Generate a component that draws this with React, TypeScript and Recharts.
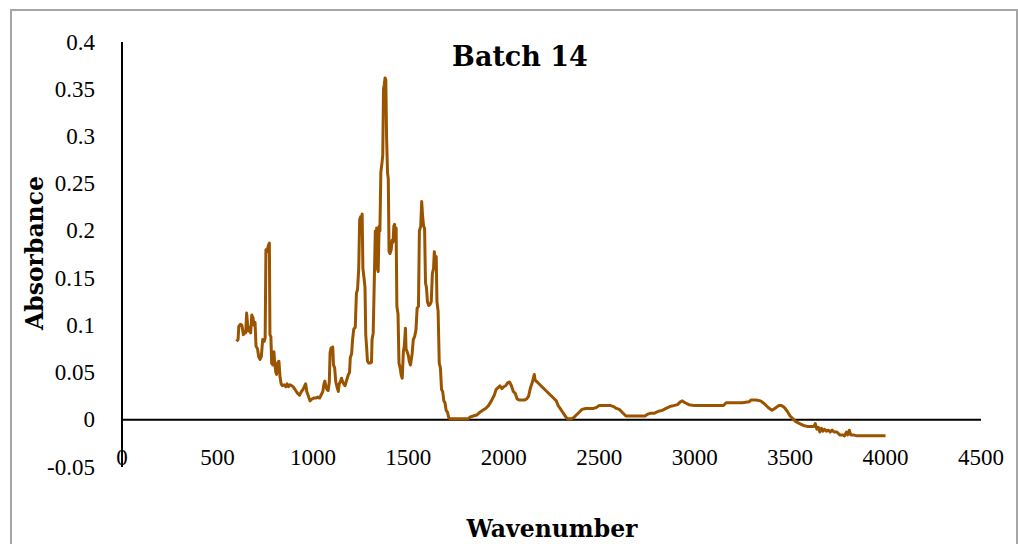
import React from 'react'
import { LineChart, Line, XAxis, YAxis, ReferenceLine } from 'recharts'

// FTIR spectrum, batch 14
const wavenumber = [
  600, 608, 612, 620, 628, 636, 642, 648, 653, 658, 663, 668, 674, 680, 686, 692, 697, 702, 710, 716,
  723, 730, 737, 745, 750, 754, 760, 766, 772, 775, 780, 784, 790, 796, 800, 806, 810, 815, 822, 828,
  834, 840, 850, 858, 865, 872, 880, 890, 900, 910, 920, 930, 940, 948, 955, 962, 968, 975, 985, 995,
  1005, 1015, 1025, 1035, 1045, 1052, 1058, 1063, 1068, 1074, 1080, 1086, 1090, 1095, 1100, 1104, 1108, 1114, 1120, 1126,
  1133, 1138, 1145, 1150, 1156, 1162, 1168, 1174, 1180, 1186, 1192, 1196, 1203, 1208, 1214, 1222, 1228, 1234, 1240, 1245,
  1250, 1255, 1258, 1262, 1268, 1273, 1277, 1282, 1286, 1293, 1300, 1307, 1310, 1316, 1322, 1327, 1330, 1334, 1338, 1342,
  1347, 1351, 1356, 1362, 1366, 1370, 1374, 1378, 1382, 1386, 1391, 1395, 1399, 1404, 1410, 1415, 1420, 1424, 1428, 1432,
  1436, 1440, 1446, 1451, 1457, 1462, 1468, 1474, 1479, 1485, 1488, 1494, 1500, 1505, 1511, 1515, 1520, 1526, 1533, 1540,
  1546, 1553, 1558, 1565, 1570, 1575, 1580, 1585, 1590, 1595, 1600, 1607, 1614, 1620, 1626, 1632, 1636, 1640, 1643, 1646,
  1650, 1656, 1662, 1668, 1674, 1680, 1686, 1692, 1698, 1705, 1712, 1720, 1735, 1760, 1790, 1812, 1825, 1840, 1858, 1875,
  1890, 1905, 1920, 1935, 1950, 1960, 1970, 1980, 1990, 2000, 2010, 2020, 2030, 2040, 2050, 2060, 2070, 2080, 2090, 2100,
  2110, 2120, 2130, 2140, 2150, 2160, 2164, 2180, 2200, 2220, 2240, 2260, 2275, 2285, 2295, 2305, 2315, 2325, 2335, 2350,
  2365, 2380, 2395, 2410, 2430, 2450, 2470, 2485, 2500, 2520, 2540, 2560, 2575, 2590, 2605, 2620, 2640, 2660, 2680, 2700,
  2720, 2740, 2755, 2770, 2790, 2810, 2830, 2850, 2870, 2890, 2910, 2925, 2935, 2950, 2970, 3000, 3050, 3100, 3150, 3165,
  3200, 3250, 3285, 3295, 3320, 3345, 3365, 3385, 3405, 3420, 3440, 3455, 3470, 3485, 3500, 3515, 3530, 3550, 3570, 3590,
  3610, 3625, 3632, 3640, 3648, 3656, 3664, 3672, 3680, 3690, 3700, 3710, 3720, 3730, 3745, 3760, 3775, 3785, 3795, 3802,
  3810, 3818, 3830, 3850, 3880, 3920, 3960, 4000,
]

const absorbance = [
  0.083, 0.085, 0.099, 0.101, 0.1, 0.09, 0.093, 0.092, 0.113, 0.1, 0.094, 0.097, 0.092, 0.111, 0.108, 0.1, 0.103, 0.078, 0.075, 0.067,
  0.064, 0.067, 0.085, 0.083, 0.087, 0.18, 0.178, 0.184, 0.187, 0.09, 0.088, 0.06, 0.058, 0.072, 0.06, 0.05, 0.048, 0.06, 0.062, 0.045,
  0.038, 0.036, 0.037, 0.035, 0.038, 0.035, 0.037, 0.036, 0.034, 0.031, 0.028, 0.026, 0.03, 0.032, 0.035, 0.038, 0.03, 0.026, 0.02, 0.022,
  0.023, 0.023, 0.024, 0.023, 0.027, 0.03, 0.038, 0.041, 0.035, 0.032, 0.031, 0.04, 0.071, 0.076, 0.074, 0.077, 0.058, 0.055, 0.04, 0.035,
  0.03, 0.038, 0.041, 0.044, 0.04, 0.038, 0.036, 0.04, 0.044, 0.048, 0.05, 0.066, 0.07, 0.085, 0.096, 0.098, 0.134, 0.138, 0.16, 0.212,
  0.215, 0.2, 0.218, 0.16, 0.15, 0.14, 0.09, 0.075, 0.062, 0.06, 0.06, 0.061, 0.085, 0.092, 0.15, 0.2, 0.162, 0.203, 0.16, 0.157,
  0.205, 0.2, 0.262, 0.272, 0.28, 0.35, 0.355, 0.362, 0.36, 0.3, 0.262, 0.255, 0.178, 0.176, 0.18, 0.19, 0.188, 0.205, 0.207, 0.19,
  0.203, 0.12, 0.112, 0.06, 0.055, 0.048, 0.044, 0.072, 0.078, 0.097, 0.075, 0.072, 0.068, 0.062, 0.058, 0.063, 0.07, 0.085, 0.088, 0.095,
  0.118, 0.12, 0.2, 0.205, 0.231, 0.215, 0.205, 0.203, 0.145, 0.14, 0.125, 0.121, 0.122, 0.125, 0.155, 0.16, 0.178, 0.17, 0.165, 0.173,
  0.125, 0.115, 0.06, 0.055, 0.032, 0.03, 0.02, 0.018, 0.01, 0.008, 0.002, 0.001, 0.001, 0.001, 0.001, 0.001, 0.003, 0.004, 0.005, 0.008,
  0.01, 0.012, 0.015, 0.02, 0.026, 0.032, 0.034, 0.036, 0.033, 0.035, 0.036, 0.039, 0.04, 0.036, 0.03, 0.028, 0.022, 0.021, 0.021, 0.021,
  0.021, 0.022, 0.025, 0.034, 0.04, 0.048, 0.042, 0.039, 0.035, 0.031, 0.027, 0.023, 0.02, 0.015, 0.012, 0.009, 0.006, 0.003, 0.001, 0.001,
  0.002, 0.005, 0.008, 0.011, 0.012, 0.012, 0.012, 0.013, 0.015, 0.015, 0.015, 0.015, 0.014, 0.012, 0.011, 0.008, 0.004, 0.004, 0.004, 0.004,
  0.004, 0.004, 0.006, 0.007, 0.007, 0.009, 0.01, 0.012, 0.014, 0.015, 0.016, 0.019, 0.02, 0.018, 0.016, 0.015, 0.015, 0.015, 0.015, 0.018,
  0.018, 0.018, 0.019, 0.021, 0.021, 0.02, 0.017, 0.013, 0.01, 0.012, 0.015, 0.015, 0.013, 0.009, 0.004, 0.001, -0.002, -0.004, -0.006, -0.007,
  -0.007, -0.007, -0.004, -0.01, -0.008, -0.013, -0.009, -0.012, -0.01, -0.012, -0.011, -0.013, -0.011, -0.013, -0.013, -0.016, -0.016, -0.017, -0.013, -0.016,
  -0.011, -0.016, -0.016, -0.017, -0.017, -0.017, -0.017, -0.017,
]

const xTicks = [0, 500, 1000, 1500, 2000, 2500, 3000, 3500, 4000, 4500]
const yTicks = [-0.05, 0, 0.05, 0.1, 0.15, 0.2, 0.25, 0.3, 0.35, 0.4]

const spectrum = wavenumber.map((w, i) => ({ w, a: absorbance[i] }))

const tickFont = '"Liberation Serif", serif'
const boldFont = '"DejaVu Serif", serif'

function XTick({ x, y, payload }: any) {
  return (
    <text x={x} y={y - 12} textAnchor="middle" dominantBaseline="central" fontFamily={tickFont} fontSize={23} fill="#000">
      {payload.value}
    </text>
  )
}

function YTick({ x, y, payload }: any) {
  return (
    <text x={x - 25} y={y} textAnchor="end" dominantBaseline="central" fontFamily={tickFont} fontSize={23} fill="#000">
      {payload.value}
    </text>
  )
}

export default function App() {
  return (
    <div style={{ position: 'absolute', left: 0, top: 0, width: 1018, height: 544, background: '#fff', overflow: 'hidden' }}>
      <div style={{ position: 'absolute', left: 10, top: 9, width: 1004, height: 600, border: '2px solid #a6a6a6' }} />
      <div
        style={{
          position: 'absolute', left: 0, top: 40, width: 1040, textAlign: 'center',
          fontFamily: boldFont, fontWeight: 'bold', fontSize: 27, lineHeight: '34px', color: '#000',
        }}
      >
        Batch 14
      </div>
      <div style={{ position: 'absolute', left: 0, top: 0 }}>
        <LineChart width={1018} height={544} data={spectrum} margin={{ top: 42, right: 37, bottom: 0, left: 0 }}>
          <XAxis
            dataKey="w"
            type="number"
            domain={[0, 4500]}
            ticks={xTicks}
            axisLine={false}
            tickLine={false}
            tickSize={0}
            height={77}
            tick={<XTick />}
            interval={0}
            label={{
              content: () => (
                <text x={552} y={529} textAnchor="middle" dominantBaseline="central" fontFamily={boldFont} fontWeight="bold" fontSize={23.5} fill="#000">
                  Wavenumber
                </text>
              ),
            }}
          />
          <YAxis
            type="number"
            domain={[-0.05, 0.4]}
            ticks={yTicks}
            width={122}
            axisLine={{ stroke: '#000', strokeWidth: 2 }}
            tickLine={false}
            tickSize={0}
            tick={<YTick />}
            interval={0}
            label={{
              content: () => (
                <text
                  x={35}
                  y={253}
                  transform="rotate(-90 35 253)"
                  textAnchor="middle"
                  dominantBaseline="central"
                  fontFamily={boldFont}
                  fontWeight="bold"
                  fontSize={23.5}
                  fill="#000"
                >
                  Absorbance
                </text>
              ),
            }}
          />
          <ReferenceLine y={0} stroke="#000" strokeWidth={2} />
          <Line
            type="linear"
            dataKey="a"
            stroke="#9a5400"
            strokeWidth={3}
            strokeLinejoin="round"
            dot={false}
            isAnimationActive={false}
          />
        </LineChart>
      </div>
    </div>
  )
}
